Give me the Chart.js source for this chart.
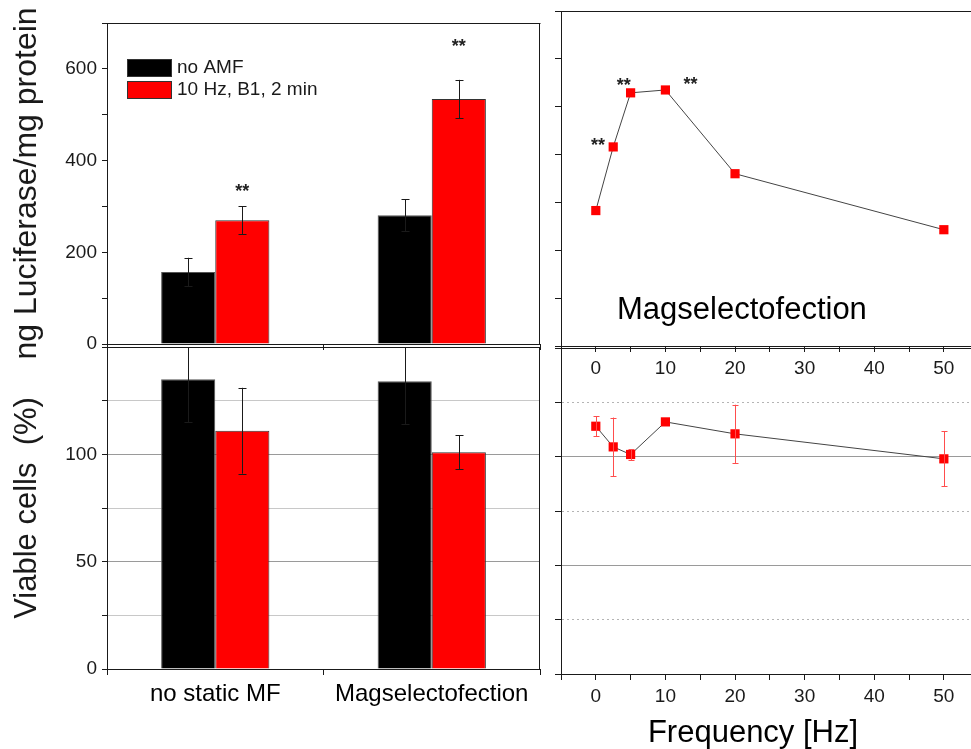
<!DOCTYPE html>
<html lang="en">
<head>
<meta charset="UTF-8" />
<title>Luciferase expression and viability vs. AMF frequency</title>
<script src="https://cdn.jsdelivr.net/npm/chart.js@4.4.1/dist/chart.umd.min.js"></script>
<style>
  body { margin: 0; background: #fff; overflow: hidden; width: 971px; height: 749px; position: relative; }
  canvas { position: absolute; }
  #lucBars { left: 0; top: 0; z-index: 2; }
  #viaBars { left: 0; top: 340px; z-index: 1; }
  #lucFreq { left: 540px; top: 0; z-index: 4; }
  #viaFreq { left: 540px; top: 340px; z-index: 3; }
</style>
</head>
<body>
<canvas id="lucBars" width="548" height="372"></canvas>
<canvas id="viaBars" width="548" height="409"></canvas>
<canvas id="lucFreq" width="431" height="385"></canvas>
<canvas id="viaFreq" width="431" height="409"></canvas>
<script>
// bar panels: two transfection setups, with and without the AMF pulse
const groups = ['no static MF', 'Magselectofection'];
const seriesNames = ['no AMF', '10 Hz, B1, 2 min'];
const lucNoAmf = [157, 281];
const lucNoAmfErr = [31, 35];
const lucAmf = [270, 534];
const lucAmfErr = [30, 42];
const lucStars = [345, 660];          // height of the "**" over the AMF bars
const viaNoAmf = [135, 134];
const viaNoAmfErr = [20, 20];
const viaAmf = [111, 101];
const viaAmfErr = [20, 8];

// frequency panels (Magselectofection only)
const freqHz = [0, 2.5, 5, 10, 20, 50];
const freqRange = [-5, 53.9];         // the panels run off the right edge
const lucByFreq = [283, 416, 529, 535, 360, 243];
const viaByFreq = [114, 104.5, 101, 116, 110.5, 99];
const viaByFreqErr = [4.5, 13.5, 2.5, 0, 13.4, 12.6];
const freqStars = [[0.3, 431], [4.0, 556], [13.6, 558]];

const FONT = "'Liberation Sans', Arial, sans-serif";
const INK = '#1a1a1a';
Chart.defaults.font.family = FONT;
Chart.defaults.color = INK;

// fixed axis sizes so the four panels line up; label overhang is not reserved
const fixWidth = w => scale => { scale.width = w; scale.paddingTop = 0; scale.paddingBottom = 0; };
const fixHeight = h => scale => { scale.height = h; scale.paddingLeft = 0; scale.paddingRight = 0; };

// box round the plot area (the frequency panels are left open on the right)
const frame = {
  id: 'frame',
  afterDraw(chart, args, opts) {
    const { ctx, chartArea: a } = chart;
    const l = Math.round(a.left) + 0.5, t = Math.round(a.top) + 0.5;
    const r = Math.round(a.right) - 0.5, b = Math.round(a.bottom) + 0.5;
    ctx.save();
    ctx.strokeStyle = INK;
    ctx.lineWidth = 1;
    ctx.beginPath();
    ctx.moveTo(r + 1, t); ctx.lineTo(l, t); ctx.lineTo(l, b); ctx.lineTo(r + 1, b);
    if (!opts.openRight) { ctx.moveTo(r, t); ctx.lineTo(r, b); }
    ctx.stroke();
    ctx.restore();
  }
};

// +/- error bars, read from dataset.errors
const errorBars = {
  id: 'errorBars',
  afterDatasetsDraw(chart) {
    const { ctx, chartArea: a } = chart;
    ctx.save();
    ctx.beginPath();
    ctx.rect(a.left, a.top, a.width, a.height);
    ctx.clip();
    chart.data.datasets.forEach((ds, di) => {
      if (!ds.errors) return;
      const meta = chart.getDatasetMeta(di);
      const y = chart.scales[meta.yAxisID];
      const cap = ds.errorCap || 4;
      ctx.strokeStyle = ds.errorColor || INK;
      ctx.lineWidth = 1;
      meta.data.forEach((el, i) => {
        const err = ds.errors[i];
        if (!err) return;
        const d = ds.data[i];
        const v = typeof d === 'object' ? d.y : d;
        const x = Math.round(el.x) + 0.5;
        const top = y.getPixelForValue(v + err);
        const bot = y.getPixelForValue(v - err);
        ctx.beginPath();
        ctx.moveTo(x, top); ctx.lineTo(x, bot);
        ctx.moveTo(x - cap, Math.round(top) + 0.5); ctx.lineTo(x + cap, Math.round(top) + 0.5);
        ctx.moveTo(x - cap, Math.round(bot) + 0.5); ctx.lineTo(x + cap, Math.round(bot) + 0.5);
        ctx.stroke();
      });
    });
    ctx.restore();
  }
};

// significance marks
const stars = {
  id: 'stars',
  afterDatasetsDraw(chart, args, opts) {
    if (!opts.marks) return;
    const { ctx, scales } = chart;
    ctx.save();
    ctx.font = 'bold 18px ' + FONT;
    ctx.fillStyle = '#222';
    ctx.textAlign = 'center';
    opts.marks.forEach(([x, v]) => {
      const px = opts.dataset != null
        ? chart.getDatasetMeta(opts.dataset).data[x].x
        : scales.x.getPixelForValue(x);
      ctx.fillText('**', px, scales.y.getPixelForValue(v) + 11);
    });
    ctx.restore();
  }
};

// filled-box legend inside the plot
const boxLegend = {
  id: 'boxLegend',
  afterDraw(chart, args, opts) {
    if (!opts.show) return;
    const { ctx, chartArea: a } = chart;
    ctx.save();
    ctx.font = '19px ' + FONT;
    ctx.textBaseline = 'middle';
    ctx.textAlign = 'left';
    chart.data.datasets.forEach((ds, i) => {
      const x = a.left + opts.left;
      const y = a.top + opts.top + i * opts.step;
      ctx.fillStyle = ds.backgroundColor;
      ctx.fillRect(x, y, 44, 17);
      ctx.strokeStyle = '#333';
      ctx.strokeRect(x + 0.5, y + 0.5, 44, 17);
      ctx.fillStyle = INK;
      ctx.fillText(ds.label, x + 50, y + 9);
    });
    ctx.restore();
  }
};

// free text placed relative to the plot area (dx from left, dy from bottom)
const panelText = {
  id: 'panelText',
  afterDraw(chart, args, opts) {
    if (!opts.items) return;
    const { ctx, chartArea: a } = chart;
    ctx.save();
    ctx.fillStyle = '#000';
    ctx.textBaseline = 'middle';
    opts.items.forEach(it => {
      ctx.font = it.size + 'px ' + FONT;
      ctx.textAlign = it.align || 'left';
      ctx.fillText(it.text, a.left + it.dx, a.bottom - it.dy);
    });
    ctx.restore();
  }
};

const base = {
  responsive: false,
  animation: false,
  events: [],
  layout: { autoPadding: false },
  plugins: { legend: { display: false }, tooltip: { enabled: false } }
};

const axisLine = { color: INK, width: 1 };

// Luciferase bars (canvas runs a little below the plot so the long axis title fits)
new Chart(document.getElementById('lucBars'), {
  type: 'bar',
  data: {
    labels: groups,
    datasets: [
      { label: seriesNames[0], data: lucNoAmf, errors: lucNoAmfErr, backgroundColor: '#000000', borderColor: '#555', borderWidth: 1 },
      { label: seriesNames[1], data: lucAmf, errors: lucAmfErr, backgroundColor: '#ff0000', borderColor: '#333', borderWidth: 1 }
    ]
  },
  options: {
    ...base,
    layout: { autoPadding: false, padding: { top: 23, right: 8, left: 0, bottom: 0 } },
    datasets: { bar: { categoryPercentage: 0.5, barPercentage: 1 } },
    plugins: {
      ...base.plugins,
      boxLegend: { show: true, left: 20, top: 36, step: 22 },
      stars: { dataset: 1, marks: lucStars.map((v, i) => [i, v]) }
    },
    scales: {
      x: {
        grid: { drawOnChartArea: false, tickLength: 6, color: INK },
        border: axisLine,
        ticks: { display: false },
        afterFit: fixHeight(28)
      },
      y: {
        min: 0, max: 700,
        ticks: { stepSize: 100, callback: v => (v % 200 ? '' : v), font: { size: 19 }, color: INK, padding: 5 },
        grid: { drawOnChartArea: false, tickLength: 5, color: INK },
        border: axisLine,
        title: { display: true, text: 'ng Luciferase/mg protein', font: { size: 32 }, color: INK, padding: { top: 8, bottom: 0 } },
        afterFit: fixWidth(107)
      }
    }
  },
  plugins: [errorBars, stars, boxLegend, frame]
});

// viability bars
new Chart(document.getElementById('viaBars'), {
  type: 'bar',
  data: {
    labels: groups,
    datasets: [
      { label: seriesNames[0], data: viaNoAmf, errors: viaNoAmfErr, backgroundColor: '#000000', borderColor: '#555', borderWidth: 1 },
      { label: seriesNames[1], data: viaAmf, errors: viaAmfErr, backgroundColor: '#ff0000', borderColor: '#333', borderWidth: 1 }
    ]
  },
  options: {
    ...base,
    layout: { autoPadding: false, padding: { top: 7, right: 8, left: 0, bottom: 0 } },
    datasets: { bar: { categoryPercentage: 0.5, barPercentage: 1 } },
    scales: {
      x: {
        grid: { drawOnChartArea: false, tickLength: 6, color: INK },
        border: axisLine,
        ticks: { font: { size: 24 }, color: '#000', padding: 5, maxRotation: 0 },
        afterFit: fixHeight(80)
      },
      y: {
        min: 0, max: 150,
        ticks: { stepSize: 25, callback: v => (v % 50 === 0 && v < 150 ? v : ''), font: { size: 19 }, color: INK, padding: 5 },
        grid: {
          tickLength: 5,
          tickColor: INK,
          color: c => (c.tick.value % 50 ? '#c8c8c8' : '#9a9a9a')
        },
        border: axisLine,
        title: { display: true, text: 'Viable cells  (%)', font: { size: 31 }, color: INK, padding: { top: 9, bottom: 0 } },
        afterFit: fixWidth(107)
      }
    }
  },
  plugins: [errorBars, frame]
});

const freqAxis = () => ({
  type: 'linear',
  min: freqRange[0], max: freqRange[1],
  ticks: {
    stepSize: 5, includeBounds: false, autoSkip: false, maxRotation: 0,
    callback: v => (v % 10 ? '' : v), font: { size: 19 }, color: INK, padding: 5
  },
  grid: { drawOnChartArea: false, tickLength: 6, color: INK },
  border: axisLine
});

// Luciferase vs. frequency
new Chart(document.getElementById('lucFreq'), {
  type: 'line',
  data: {
    datasets: [{
      label: 'Magselectofection',
      data: freqHz.map((x, i) => ({ x, y: lucByFreq[i] })),
      borderColor: '#444', borderWidth: 1,
      pointStyle: 'rect', pointRadius: 6.5,
      pointBackgroundColor: '#ff0000', pointBorderColor: '#ff0000', pointBorderWidth: 0
    }]
  },
  options: {
    ...base,
    layout: { autoPadding: false, padding: { top: 11, right: 0, left: 0, bottom: 0 } },
    plugins: {
      ...base.plugins,
      frame: { openRight: true },
      stars: { marks: freqStars },
      panelText: { items: [{ text: 'Magselectofection', size: 31, dx: 56, dy: 36 }] }
    },
    scales: {
      x: { ...freqAxis(), afterFit: fixHeight(39) },
      y: {
        min: 0, max: 700,
        ticks: { stepSize: 100, display: false },
        grid: { drawOnChartArea: false, tickLength: 6, color: INK },
        border: axisLine,
        afterFit: fixWidth(21)
      }
    }
  },
  plugins: [stars, panelText, frame]
});

// viability vs. frequency; the axis caption sits under the data, not under the cut-off axis
new Chart(document.getElementById('viaFreq'), {
  type: 'line',
  data: {
    datasets: [{
      label: 'Magselectofection',
      data: freqHz.map((x, i) => ({ x, y: viaByFreq[i] })),
      errors: viaByFreqErr, errorColor: '#ff4d4d', errorCap: 3,
      borderColor: '#444', borderWidth: 1,
      pointStyle: 'rect', pointRadius: 6.5,
      pointBackgroundColor: '#ff0000', pointBorderColor: '#ff0000', pointBorderWidth: 0
    }]
  },
  options: {
    ...base,
    layout: { autoPadding: false, padding: { top: 8, right: 0, left: 0, bottom: 0 } },
    plugins: {
      ...base.plugins,
      frame: { openRight: true },
      panelText: { items: [{ text: 'Frequency [Hz]', size: 31, dx: 192, dy: -59, align: 'center' }] }
    },
    scales: {
      x: { ...freqAxis(), afterFit: fixHeight(75) },
      y: {
        min: 0, max: 150,
        ticks: { stepSize: 25, display: false },
        grid: {
          tickLength: 6,
          tickColor: INK,
          color: c => (c.tick.value % 50 ? '#b4b4b4' : '#9a9a9a')
        },
        border: { ...axisLine, dash: c => (c.tick && c.tick.value % 50 ? [2, 3] : []) },
        afterFit: fixWidth(21)
      }
    }
  },
  plugins: [errorBars, panelText, frame]
});
</script>
</body>
</html>
